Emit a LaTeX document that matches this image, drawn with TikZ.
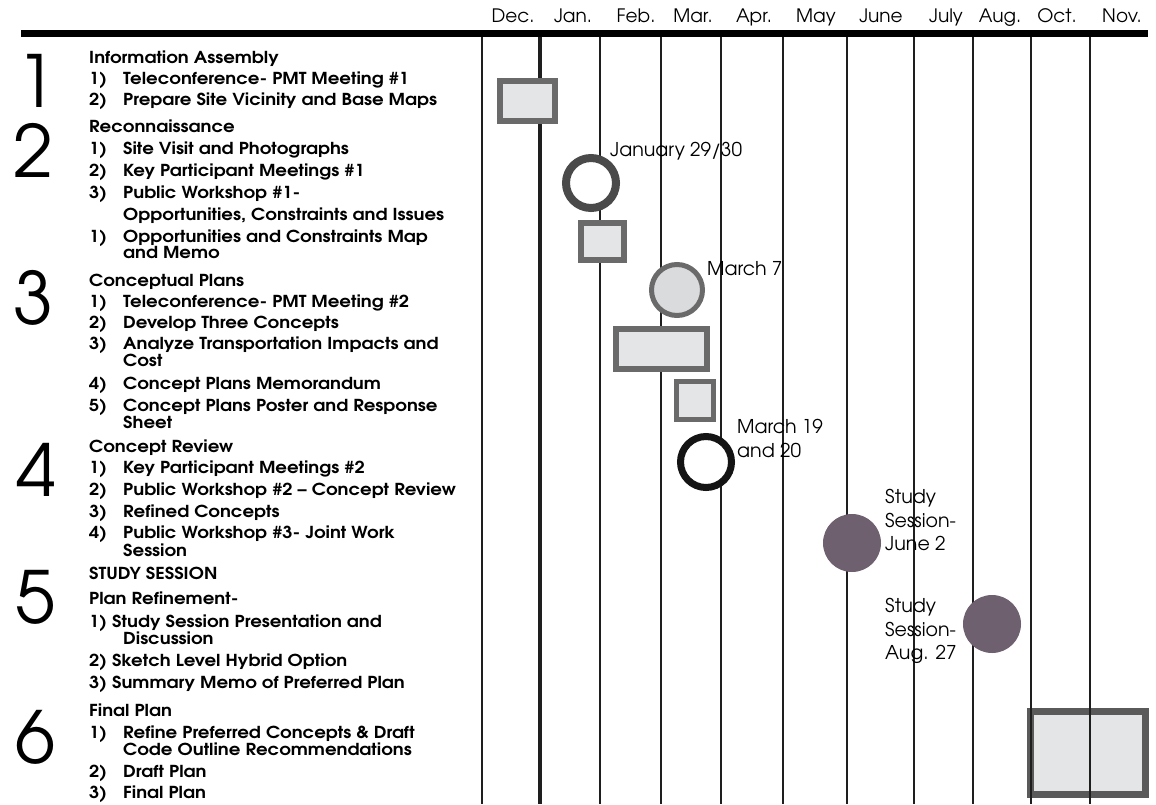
\documentclass[tikz,border=0pt]{standalone}
\usepackage{fontspec}
\setmainfont{texgyreadventor}[Extension=.otf, UprightFont=*-regular, BoldFont=*-bold, BoldFeatures={FakeStretch=1.10}]
\definecolor{boxedge}{HTML}{6A6A6A}
\definecolor{finaledge}{HTML}{5A5A5A}
\definecolor{boxfill}{HTML}{E4E5E7}
\definecolor{ringdark}{HTML}{4A4A4A}
\definecolor{studyfill}{HTML}{6F6070}
\definecolor{linegray}{HTML}{1E1E1E}
\tikzset{
  hd/.style={anchor=west, inner sep=0pt, text height=12pt, text depth=0pt, font=\fontsize{16.5}{18}\selectfont\bfseries},
  lbl/.style={anchor=west, inner sep=0pt, text height=13pt, text depth=0pt, font=\fontsize{19}{21}\selectfont},
  month/.style={inner sep=0pt, text height=13pt, text depth=0pt, font=\fontsize{18.5}{20}\selectfont},
  bignum/.style={inner sep=0pt, font=\fontsize{72}{72}\selectfont},
  taskbox/.style={draw=boxedge, fill=boxfill, line width=6pt, rectangle, inner sep=0pt},
  ring/.style={circle, draw=ringdark, fill=white, line width=8pt, inner sep=0pt},
  grid/.style={draw=linegray, line width=1.8pt},
}
\newcommand\lineitem[4]{\node[hd] (#1n) at (89,#2) {#3}; \node[hd] (#1) at (123,#2) {#4};}
\begin{document}
\begin{tikzpicture}[x=1pt,y=-1pt]
\useasboundingbox (0,0) rectangle (1156,804);
% final plan box (under grid lines)
\node[taskbox, line width=7pt, minimum width=115pt, minimum height=83pt, draw=finaledge] (b5) at (1088,753) {};
% header bar
\fill[black] (21,30) rectangle (1148,37);
% grid lines
\foreach \gx/\gn in {482/g0,600/g2,661/g3,721/g4,783/g5,847/g6,914/g7,973/g8,1031/g9,1090/g10}{
  \coordinate (\gn t) at (\gx,37); \coordinate (\gn b) at (\gx,804);
  \draw[grid] (\gn t) -- (\gn b);
}
\coordinate (g1t) at (540,37); \coordinate (g1b) at (540,804);
\draw[linegray, line width=4pt] (g1t) -- (g1b);
% months
\foreach \mx/\mt/\mn in {513/Dec./m1,573/Jan./m2,636/Feb./m3,693/Mar./m4,754/Apr./m5,816/May/m6,881/June/m7,946/July/m8,1000/Aug./m9,1057/Oct./m10,1122/Nov./m11}{
  \node[month] (\mn) at (\mx,16) {\mt};
}
% task shapes
\node[taskbox, minimum width=55pt, minimum height=40pt] (b1) at (527.5,101) {};
\node[ring, minimum size=50pt] (c1) at (591,183) {};
\node[taskbox, minimum width=43pt, minimum height=37pt] (b2) at (602.5,241.5) {};
\node[circle, draw=boxedge, fill=boxfill!90!gray, line width=5pt, minimum size=51pt, inner sep=0pt] (c2) at (677,290) {};
\node[taskbox, minimum width=91pt, minimum height=40pt] (b3) at (661.5,349) {};
\node[taskbox, line width=5pt, minimum width=37pt, minimum height=38pt] (b4) at (695,400.5) {};
\node[ring, draw=black!92, line width=7pt, minimum size=51pt] (c3) at (706,462) {};
\node[circle, fill=studyfill, minimum size=58pt, inner sep=0pt] (c4) at (852,543) {};
\node[circle, fill=studyfill, minimum size=58pt, inner sep=0pt] (c5) at (992,624) {};
% labels
\node[lbl] (l1) at (610,150) {January 29/30};
\node[lbl] (l2) at (707,269) {March 7};
\node[lbl] (l3a) at (737,427) {March 19};
\node[lbl] (l3b) at (737,451) {and 20};
\node[lbl] (l4a) at (885,497) {Study};
\node[lbl] (l4b) at (885,521) {Session-};
\node[lbl] (l4c) at (885,544) {June 2};
\node[lbl] (l5a) at (885,606) {Study};
\node[lbl] (l5b) at (885,630) {Session-};
\node[lbl] (l5c) at (885,653) {Aug. 27};
% big numbers
\node[bignum] (n1) at (36,81) {1};
\node[bignum] (n2) at (33,150) {2};
\node[bignum] (n3) at (33,298) {3};
\node[bignum] (n4) at (36,470) {4};
\node[bignum] (n5) at (35,597) {5};
\node[bignum] (n6) at (35,737) {6};
% section 1
\node[hd] (s1) at (89,57) {Information Assembly};
\lineitem{s1a}{78}{1)}{Teleconference- PMT Meeting \#1}
\lineitem{s1b}{99}{2)}{Prepare Site Vicinity and Base Maps}
% section 2
\node[hd] (s2) at (89,126) {Reconnaissance};
\lineitem{s2a}{148}{1)}{Site Visit and Photographs}
\lineitem{s2b}{170}{2)}{Key Participant Meetings \#1}
\lineitem{s2c}{192}{3)}{Public Workshop \#1-}
\node[hd] (s2cc) at (123,214) {Opportunities, Constraints and Issues};
\lineitem{s2d}{236}{1)}{Opportunities and Constraints Map}
\node[hd] (s2dd) at (123,252) {and Memo};
% section 3
\node[hd] (s3) at (89,280) {Conceptual Plans};
\lineitem{s3a}{301}{1)}{Teleconference- PMT Meeting \#2}
\lineitem{s3b}{322}{2)}{Develop Three Concepts}
\lineitem{s3c}{343}{3)}{Analyze Transportation Impacts and}
\node[hd] (s3cc) at (123,360) {Cost};
\lineitem{s3d}{383}{4)}{Concept Plans Memorandum}
\lineitem{s3e}{405}{5)}{Concept Plans Poster and Response}
\node[hd] (s3ee) at (123,422) {Sheet};
% section 4
\node[hd] (s4) at (89,446) {Concept Review};
\lineitem{s4a}{467}{1)}{Key Participant Meetings \#2}
\lineitem{s4b}{489}{2)}{Public Workshop \#2 -- Concept Review}
\lineitem{s4c}{511}{3)}{Refined Concepts}
\lineitem{s4d}{532}{4)}{Public Workshop \#3- Joint Work}
\node[hd] (s4dd) at (123,550) {Session};
% section 5
\node[hd] (s5) at (89,573) {STUDY SESSION};
\node[hd] (s5h) at (89,598) {Plan Refinement-};
\node[hd] (s5a) at (89,621) {1) Study Session Presentation and};
\node[hd] (s5aa) at (123,638) {Discussion};
\node[hd] (s5b) at (89,660) {2) Sketch Level Hybrid Option};
\node[hd] (s5c) at (89,682) {3) Summary Memo of Preferred Plan};
% section 6
\node[hd] (s6) at (89,710) {Final Plan};
\lineitem{s6a}{732}{1)}{Refine Preferred Concepts \& Draft}
\node[hd] (s6aa) at (123,749) {Code Outline Recommendations};
\lineitem{s6b}{771}{2)}{Draft Plan}
\lineitem{s6c}{792}{3)}{Final Plan}
\end{tikzpicture}
\end{document}
